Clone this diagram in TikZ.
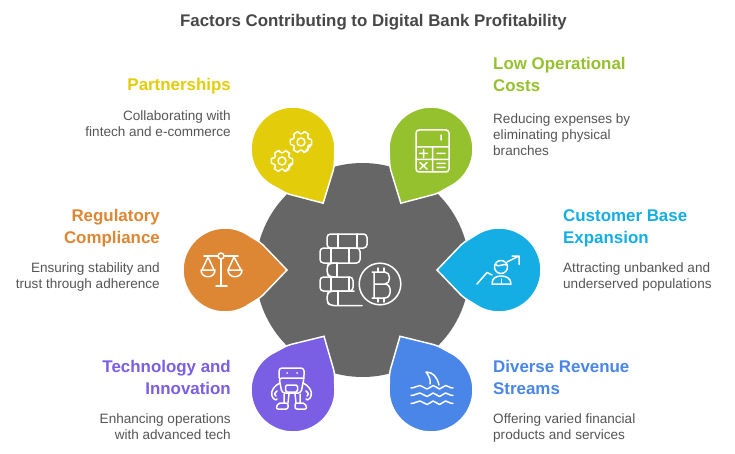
\documentclass[tikz,border=0pt]{standalone}
\usepackage{fontspec}
\setmainfont{Liberation Sans}
\definecolor{cy}{HTML}{E3CD0A}
\definecolor{cg}{HTML}{96C12F}
\definecolor{co}{HTML}{DD8633}
\definecolor{cb}{HTML}{14AEE5}
\definecolor{cp}{HTML}{7A5EE3}
\definecolor{cd}{HTML}{4A86E8}
\definecolor{hub}{HTML}{666666}
\definecolor{ink}{HTML}{555555}
\tikzset{
  ico/.style={draw=white,line width=1.5pt,line cap=round,line join=round},
  headtxt/.style={inner sep=0pt,font=\fontsize{16.9}{21.5}\selectfont\bfseries},
  bodytxt/.style={inner sep=0pt,text=ink,font=\fontsize{13.55}{16.4}\selectfont},
}
\newcommand{\petal}[4]{% cx,cy,angle,colour
  \begin{scope}[shift={(#1,#2)},y=1pt,rotate=#3]
    \fill[#4,draw=white,line width=1.5pt,line join=miter]
      (62,0) -- (38,25) .. controls (34,29) and (28,31.7) .. (24.1,34.4)
      arc (55:305:42)
      .. controls (28,-31.7) and (34,-29) .. (38,-25) -- cycle;
  \end{scope}}
\newcommand{\gear}[2]{% cx,cy
  \begin{scope}[shift={(#1,#2)},y=1pt]
    \draw[ico,rounded corners=1pt]
      \foreach \a in {0,60,...,300}{
        {(\a-14:11)} -- (\a+14:11) -- (\a+20:8.3) -- (\a+40:8.3) -- (\a+46:11)
      } -- cycle;
    \draw[ico] (0,0) circle (4);
  \end{scope}}
\newcommand{\wave}[1]{%
  \draw[ico] (411,#1) .. controls (415,#1) and (417,#1-2.5) .. (420,#1-2.5)
    .. controls (423,#1-2.5) and (424,#1+1) .. (427,#1+1)
    .. controls (430,#1+1) and (431,#1-2.5) .. (433,#1-2.5)
    .. controls (436,#1-2.5) and (437,#1+1) .. (439.5,#1+1)
    .. controls (442,#1+1) and (443,#1-2.5) .. (445.5,#1-2.5)
    .. controls (448,#1-2.5) and (449,#1) .. (453,#1);}
\begin{document}
\begin{tikzpicture}[x=1pt,y=-1pt]
\useasboundingbox (0,0) rectangle (735,454);
\fill[white] (0,0) rectangle (735,454);
\node[inner sep=0pt,text=black!72,font=\fontsize{16.85}{20}\selectfont\bfseries] (title) at (373.5,22) {Factors Contributing to Digital Bank Profitability};

\fill[hub] (362.5,270) circle (107);

\petal{293}{149}{-60.9}{cy}
\petal{431}{149}{-119.1}{cg}
\petal{225}{270}{0}{co}
\petal{499}{270}{180}{cb}
\petal{293}{390}{60}{cp}
\petal{431}{390}{120}{cd}

% gears
\gear{301}{142}
\gear{282}{161}

% calculator
\draw[ico] (416,130) [rounded corners=3pt] rectangle (449,172);
\draw[ico] (416,147) -- (449,147) (432.5,147) -- (432.5,172) (416,159.5) -- (449,159.5)
  (441,135) -- (441,140)
  (419.5,153.5) -- (427.5,153.5) (423.5,149.5) -- (423.5,157.5)
  (437,153.5) -- (445,153.5)
  (420,162.5) -- (427,169) (427,162.5) -- (420,169)
  (437,163.5) -- (445,163.5) (437,167.5) -- (445,167.5);

% scales
\draw[ico] (204,256) -- (218,256) (224,256) -- (238,256) (221,259) -- (221,286) (216,286) -- (227,286);
\draw[ico] (221,256) circle (3);
\draw[ico] (208,257) -- (202,270) (208,257) -- (214,270) (234,257) -- (228,270) (234,257) -- (241,270);
\draw[ico] (201,270) -- (215,270) .. controls (215,279) and (201,279) .. (201,270);
\draw[ico] (228,270) -- (242,270) .. controls (242,279) and (228,279) .. (228,270);

% person and arrow
\draw[ico] (501,267) circle (6.5);
\draw[ico] (495,264.5) .. controls (499,268) and (503,263) .. (507,265);
\draw[ico] (492,284) .. controls (492,278) and (496,276) .. (501,276) .. controls (506,276) and (511,278) .. (511,284) -- cycle;
\draw[ico] (501.5,279) -- (501.5,284);
\draw[ico] (477,284) -- (487,272.5) -- (492,275);
\draw[ico] (507,262) -- (519,256) (512,256) -- (519,256) -- (519,264.5);

% robot
\draw[ico,rounded corners=3pt] (279,378) -- (279,368) -- (304,368) -- (304,378) -- (301,393) -- (282,393) -- (279,378) -- (304,378);
\draw[ico,rounded corners=1.5pt] (285.5,385) rectangle (297.5,392);
\draw[ico] (287,373) -- (287.2,373) (297,373) -- (297.2,373);
\draw[ico] (280,383) .. controls (275,385) and (270,391) .. (272,396) .. controls (273,399) and (276,401) .. (277,399) (277,391) .. controls (274,393) and (274,396) .. (276,396);
\draw[ico] (303,383) .. controls (308,385) and (313,391) .. (311,396) .. controls (310,399) and (307,401) .. (306,399) (306,391) .. controls (309,393) and (309,396) .. (307,396);
\draw[ico] (284,394) -- (284,403) (289,394) -- (288,403) (295,394) -- (296,403) (300,394) -- (300,403);
\draw[ico,rounded corners=2pt] (276,409) -- (278,403) -- (288,403) -- (288,409) -- cycle;
\draw[ico,rounded corners=2pt] (307,409) -- (305,403) -- (295,403) -- (295,409) -- cycle;

% shark and waves
\draw[ico] (439,385) .. controls (437,377) and (433,372) .. (426,372) .. controls (429,376) and (431,380) .. (430,384);
\wave{388}
\wave{395.5}
\wave{403.5}

% coin stack
\draw[ico,rounded corners=3.5pt] (327,234) rectangle (367,248);
\draw[ico] (338,234) -- (338,248) (357,234) -- (357,248);
\draw[ico,rounded corners=3.5pt] (320,248) rectangle (360,263);
\draw[ico] (331,248) -- (331,263) (349,248) -- (349,263);
\draw[ico,rounded corners=3.5pt] (337,277) -- (330,277) -- (327,274) -- (327,266) -- (330,263) -- (337,263);
\draw[ico] (337,263) -- (337,277);
\draw[ico,rounded corners=3.5pt] (320,277) rectangle (353,291);
\draw[ico] (331,277) -- (331,291) (349,277) -- (349,291);
\draw[ico,rounded corners=3.5pt] (362,305.5) -- (330,305.5) -- (327,302) -- (327,294) -- (330,291) -- (354,291);
\draw[ico] (338,291) -- (338,305.5);
\draw[ico] (380,284) circle (20.8);
\draw[ico] (374,272) -- (374,298) (372,272) -- (385,272) .. controls (391,272) and (391,284) .. (385,284) -- (374,284) (385,284) .. controls (392,284) and (392,298) .. (385,298) -- (372,298);
\draw[ico] (378,268) -- (378,272) (384,268) -- (384,272) (378,298) -- (378,302) (384,298) -- (384,302);

% headings and body text
\node[headtxt,text=cy,anchor=east] (h1) at (231,86.5) {Partnerships};
\node[bodytxt,align=right,anchor=north east] (b1) at (231,110) {Collaborating with\\fintech and e-commerce};
\node[headtxt,text=cg,align=left,anchor=north west] (h2) at (493,57.5) {Low Operational\\Costs};
\node[bodytxt,align=left,anchor=north west] (b2) at (493,113) {Reducing expenses by\\eliminating physical\\branches};
\node[headtxt,text=co,align=right,anchor=north east] (h3) at (160,209.5) {Regulatory\\Compliance};
\node[bodytxt,align=right,anchor=north east] (b3) at (160,262) {Ensuring stability and\\trust through adherence};
\node[headtxt,text=cb,align=left,anchor=north west] (h4) at (563,209.5) {Customer Base\\Expansion};
\node[bodytxt,align=left,anchor=north west] (b4) at (563,262) {Attracting unbanked and\\underserved populations};
\node[headtxt,text=cp,align=right,anchor=north east] (h5) at (231,360.5) {Technology and\\Innovation};
\node[bodytxt,align=right,anchor=north east] (b5) at (231,413) {Enhancing operations\\with advanced tech};
\node[headtxt,text=cd,align=left,anchor=north west] (h6) at (493,360.5) {Diverse Revenue\\Streams};
\node[bodytxt,align=left,anchor=north west] (b6) at (493,413) {Offering varied financial\\products and services};
\end{tikzpicture}
\end{document}
